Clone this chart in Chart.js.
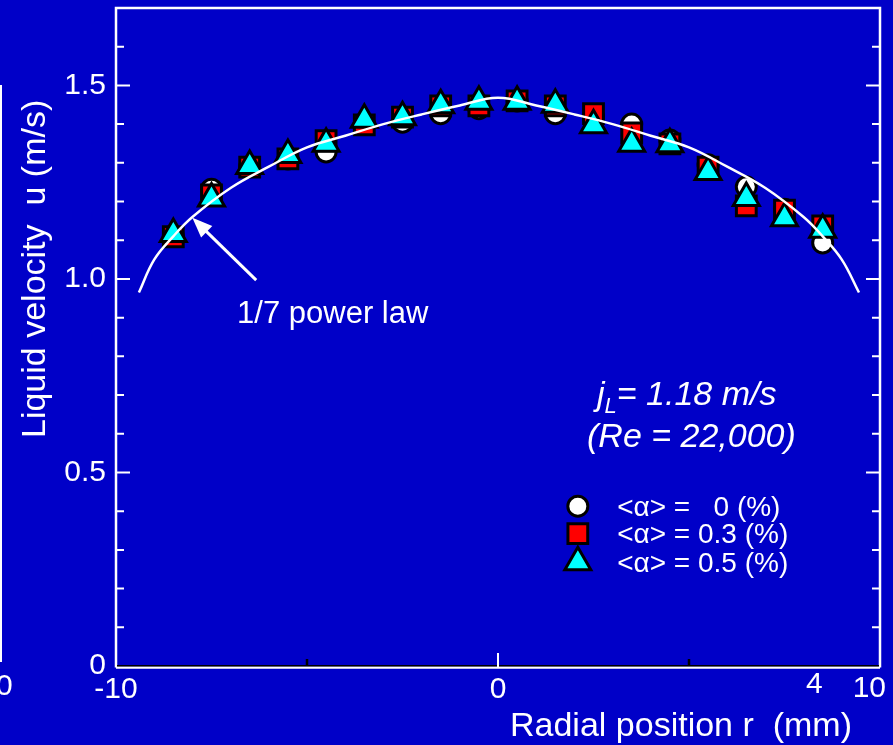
<!DOCTYPE html>
<html>
<head>
<meta charset="utf-8">
<script src="https://cdn.jsdelivr.net/npm/chart.js@4.4.1/dist/chart.umd.min.js"></script>
<style>
  html, body { margin: 0; padding: 0; background: #0000c8; overflow: hidden; }
  #wrap { width: 893px; height: 745px; }
</style>
</head>
<body>
<div id="wrap"><canvas id="velocityChart" width="893" height="745"></canvas></div>
<script>
// measured points, radial position r (mm)
const radialPos = [-8.5, -7.5, -6.5, -5.5, -4.5, -3.5, -2.5, -1.5, -0.5, 0.5, 1.5, 2.5, 3.5, 4.5, 5.5, 6.5, 7.5, 8.5];
// liquid velocity u (m/s) for each void fraction
const uAlpha0  = [1.11, 1.232, 1.29, 1.31, 1.328, 1.40, 1.405, 1.427, 1.44, 1.46, 1.427, 1.42, 1.40, 1.359, 1.295, 1.238, 1.18, 1.093];
const uAlpha03 = [1.109, 1.217, 1.289, 1.31, 1.357, 1.398, 1.418, 1.447, 1.447, 1.46, 1.447, 1.427, 1.377, 1.349, 1.289, 1.189, 1.178, 1.137];
const uAlpha05 = [1.116, 1.208, 1.292, 1.32, 1.349, 1.411, 1.418, 1.449, 1.458, 1.458, 1.45, 1.397, 1.349, 1.348, 1.276, 1.209, 1.157, 1.127];

// 1/7 power law curve
const lawR = [-9.4, -9.0, -8.5, -8, -7, -6, -5, -4, -3, -2, -1, 0, 1, 2, 3, 4, 5, 6, 7, 8, 8.5, 9.0, 9.45];
const lawU = [0.965, 1.05, 1.11, 1.16, 1.235, 1.29, 1.34, 1.37, 1.40, 1.425, 1.448, 1.468, 1.448, 1.425, 1.40, 1.37, 1.34, 1.29, 1.235, 1.16, 1.11, 1.05, 0.965];

const xTickValues = [-10, 0, 10];
const yTickValues = [0, 0.5, 1.0, 1.5];
const yTickLabels = ['0', '0.5', '1.0', '1.5'];
const legendLabels = ['<\u03b1> =   0 (%)', '<\u03b1> = 0.3 (%)', '<\u03b1> = 0.5 (%)'];

const FONT = "'Liberation Sans', Arial, sans-serif";
const BG = '#0000c8';

const toPoints = (xs, ys) => xs.map((x, i) => ({ x: x, y: ys[i] }));

const plotDecor = {
    id: 'plotDecor',
    beforeDraw(chart) {
        const ctx = chart.ctx;
        ctx.save();
        ctx.fillStyle = BG;
        ctx.fillRect(0, 0, chart.width, chart.height);
        // cut-off bits of the neighbouring figure on the left
        ctx.strokeStyle = '#fff';
        ctx.lineWidth = 2;
        ctx.beginPath();
        ctx.moveTo(1, 85);
        ctx.lineTo(1, 662);
        ctx.stroke();
        ctx.restore();
    },
    beforeDatasetsDraw(chart) {
        const ctx = chart.ctx;
        const a = chart.chartArea;
        const xs = chart.scales.x, ys = chart.scales.y;
        ctx.save();
        ctx.strokeStyle = '#fff';
        ctx.lineWidth = 2.5;
        ctx.beginPath();
        ctx.moveTo(a.left, a.bottom + 1.5);
        ctx.lineTo(a.left, a.top);
        ctx.lineTo(a.right, a.top);
        ctx.lineTo(a.right, a.bottom + 1.5);
        ctx.stroke();
        // bottom axis: white line with a dark line just above it
        ctx.beginPath();
        ctx.moveTo(a.left, a.bottom + 1.5);
        ctx.lineTo(a.right, a.bottom + 1.5);
        ctx.stroke();
        ctx.strokeStyle = '#000';
        ctx.lineWidth = 1.5;
        ctx.beginPath();
        ctx.moveTo(a.left + 1, a.bottom - 0.3);
        ctx.lineTo(a.right - 1, a.bottom - 0.3);
        ctx.stroke();

        // inward ticks on left and right
        ctx.strokeStyle = '#fff';
        ctx.lineWidth = 2;
        for (let i = 1; i <= 16; i++) {
            const y = ys.getPixelForValue(i / 10);
            const len = i % 5 === 0 ? 14 : 8;
            ctx.beginPath();
            ctx.moveTo(a.left, y);
            ctx.lineTo(a.left + len, y);
            ctx.moveTo(a.right, y);
            ctx.lineTo(a.right - len, y);
            ctx.stroke();
        }
        // bottom ticks
        const x0 = xs.getPixelForValue(0);
        ctx.beginPath();
        ctx.moveTo(x0, a.bottom + 1);
        ctx.lineTo(x0, a.bottom - 13);
        ctx.stroke();
        ctx.strokeStyle = '#000';
        ctx.lineWidth = 2.5;
        [-5, 5].forEach(v => {
            const x = xs.getPixelForValue(v);
            ctx.beginPath();
            ctx.moveTo(x, a.bottom);
            ctx.lineTo(x, a.bottom - 7);
            ctx.stroke();
        });
        ctx.restore();
    },
    afterDraw(chart) {
        const ctx = chart.ctx;
        const xs = chart.scales.x, ys = chart.scales.y;
        const px = v => xs.getPixelForValue(v);
        const py = v => ys.getPixelForValue(v);
        ctx.save();
        ctx.fillStyle = '#fff';
        ctx.strokeStyle = '#fff';
        ctx.textBaseline = 'alphabetic';
        ctx.textAlign = 'left';

        // arrow to the power-law curve
        const tipX = px(-8.0), tipY = py(1.158);
        const tailX = px(-6.33), tailY = py(0.997);
        const ang = Math.atan2(tipY - tailY, tipX - tailX);
        ctx.lineWidth = 3;
        ctx.beginPath();
        ctx.moveTo(tailX, tailY);
        ctx.lineTo(tipX - 14 * Math.cos(ang), tipY - 14 * Math.sin(ang));
        ctx.stroke();
        ctx.beginPath();
        ctx.moveTo(tipX, tipY);
        ctx.lineTo(tipX - 20 * Math.cos(ang) + 8 * Math.sin(ang), tipY - 20 * Math.sin(ang) - 8 * Math.cos(ang));
        ctx.lineTo(tipX - 20 * Math.cos(ang) - 8 * Math.sin(ang), tipY - 20 * Math.sin(ang) + 8 * Math.cos(ang));
        ctx.closePath();
        ctx.fill();

        ctx.font = '31px ' + FONT;
        ctx.fillText('1/7 power law', px(-6.83), py(0.886));

        // flow condition
        let x = px(2.59);
        const y1 = py(0.674);
        ctx.font = 'italic 34px ' + FONT;
        ctx.fillText('j', x, y1);
        x += ctx.measureText('j').width;
        ctx.font = 'italic 22px ' + FONT;
        ctx.fillText('L', x, y1 + 8);
        x += ctx.measureText('L').width;
        ctx.font = 'italic 34px ' + FONT;
        ctx.fillText('= 1.18 m/s', x, y1);
        ctx.fillText('(Re = 22,000)', px(2.33), py(0.566));

        // legend
        const mx = px(2.09);
        const rows = [0.413, 0.342, 0.268];
        const styles = [
            { s: 'circle', r: 10, c: '#fff' },
            { s: 'rect', r: 14, c: '#ff0000' },
            { s: 'triangle', r: 15, c: '#00ffff' }
        ];
        ctx.font = '28px ' + FONT;
        ctx.textBaseline = 'middle';
        rows.forEach((u, i) => {
            const st = styles[i];
            const my = py(u);
            ctx.fillStyle = st.c;
            ctx.strokeStyle = '#000';
            ctx.lineWidth = 3;
            Chart.helpers.drawPoint(ctx, { pointStyle: st.s, radius: st.r, rotation: 0, borderWidth: 3 }, mx, my);
            ctx.fillStyle = '#fff';
            ctx.fillText(legendLabels[i], px(3.12), my + 2);
        });

        // axis titles
        ctx.textBaseline = 'alphabetic';
        ctx.font = '34px ' + FONT;
        ctx.fillText('Radial position r  (mm)', 510, 736);
        ctx.save();
        ctx.translate(45, 438);
        ctx.rotate(-Math.PI / 2);
        ctx.fillText('Liquid velocity  u (m/s)', 0, 0);
        ctx.restore();

        // last x label sits inside the page edge in the original
        ctx.font = '30px ' + FONT;
        ctx.textAlign = 'right';
        ctx.fillText(String(xTickValues[2]), chart.chartArea.right + 6, 697);
        ctx.textAlign = 'left';

        // stray labels from the cropped neighbour figure
        ctx.fillText('0', -4, 695);
        ctx.fillText('4', 806, 693);
        ctx.restore();
    }
};

const markerBase = { showLine: false, borderColor: '#000', borderWidth: 3, pointBorderWidth: 3, pointHoverRadius: 0 };

new Chart(document.getElementById('velocityChart').getContext('2d'), {
    type: 'scatter',
    data: {
        datasets: [
            {
                label: '1/7 power law',
                type: 'line',
                data: toPoints(lawR, lawU),
                borderColor: '#fff',
                borderWidth: 2.5,
                pointRadius: 0,
                tension: 0.4,
                fill: false,
                order: 0
            },
            Object.assign({}, markerBase, {
                label: legendLabels[2],
                data: toPoints(radialPos, uAlpha05),
                pointStyle: 'triangle',
                pointRadius: 15,
                backgroundColor: '#00ffff',
                order: 1
            }),
            Object.assign({}, markerBase, {
                label: legendLabels[1],
                data: toPoints(radialPos, uAlpha03),
                pointStyle: 'rect',
                pointRadius: 14,
                backgroundColor: '#ff0000',
                order: 2
            }),
            Object.assign({}, markerBase, {
                label: legendLabels[0],
                data: toPoints(radialPos, uAlpha0),
                pointStyle: 'circle',
                pointRadius: 10,
                backgroundColor: '#fff',
                order: 3
            })
        ]
    },
    options: {
        responsive: false,
        animation: false,
        devicePixelRatio: 1,
        layout: { autoPadding: false, padding: { top: 8, right: 13, left: 0, bottom: 0 } },
        plugins: {
            legend: { display: false },
            tooltip: { enabled: false }
        },
        scales: {
            x: {
                type: 'linear',
                min: -10,
                max: 10,
                afterBuildTicks: s => { s.ticks = xTickValues.map(v => ({ value: v })); },
                afterFit: s => { s.height = 79; s.paddingLeft = 0; s.paddingRight = 0; },
                grid: { display: false, drawTicks: false },
                border: { display: false },
                ticks: {
                    color: '#fff',
                    padding: 6,
                    maxRotation: 0,
                    font: { family: FONT, size: 30 },
                    // the right-hand label is drawn by plotDecor so it stays on the page
                    callback: v => (v === xTickValues[2] ? '' : String(v))
                }
            },
            y: {
                type: 'linear',
                min: 0,
                max: 1.7,
                afterBuildTicks: s => { s.ticks = yTickValues.map(v => ({ value: v })); },
                afterFit: s => { s.width = 116; s.paddingTop = 0; s.paddingBottom = 0; },
                grid: { display: false, drawTicks: false },
                border: { display: false },
                ticks: {
                    color: '#fff',
                    padding: 10,
                    font: { family: FONT, size: 30 },
                    callback: v => yTickLabels[yTickValues.indexOf(v)]
                }
            }
        }
    },
    plugins: [plotDecor]
});
</script>
</body>
</html>
